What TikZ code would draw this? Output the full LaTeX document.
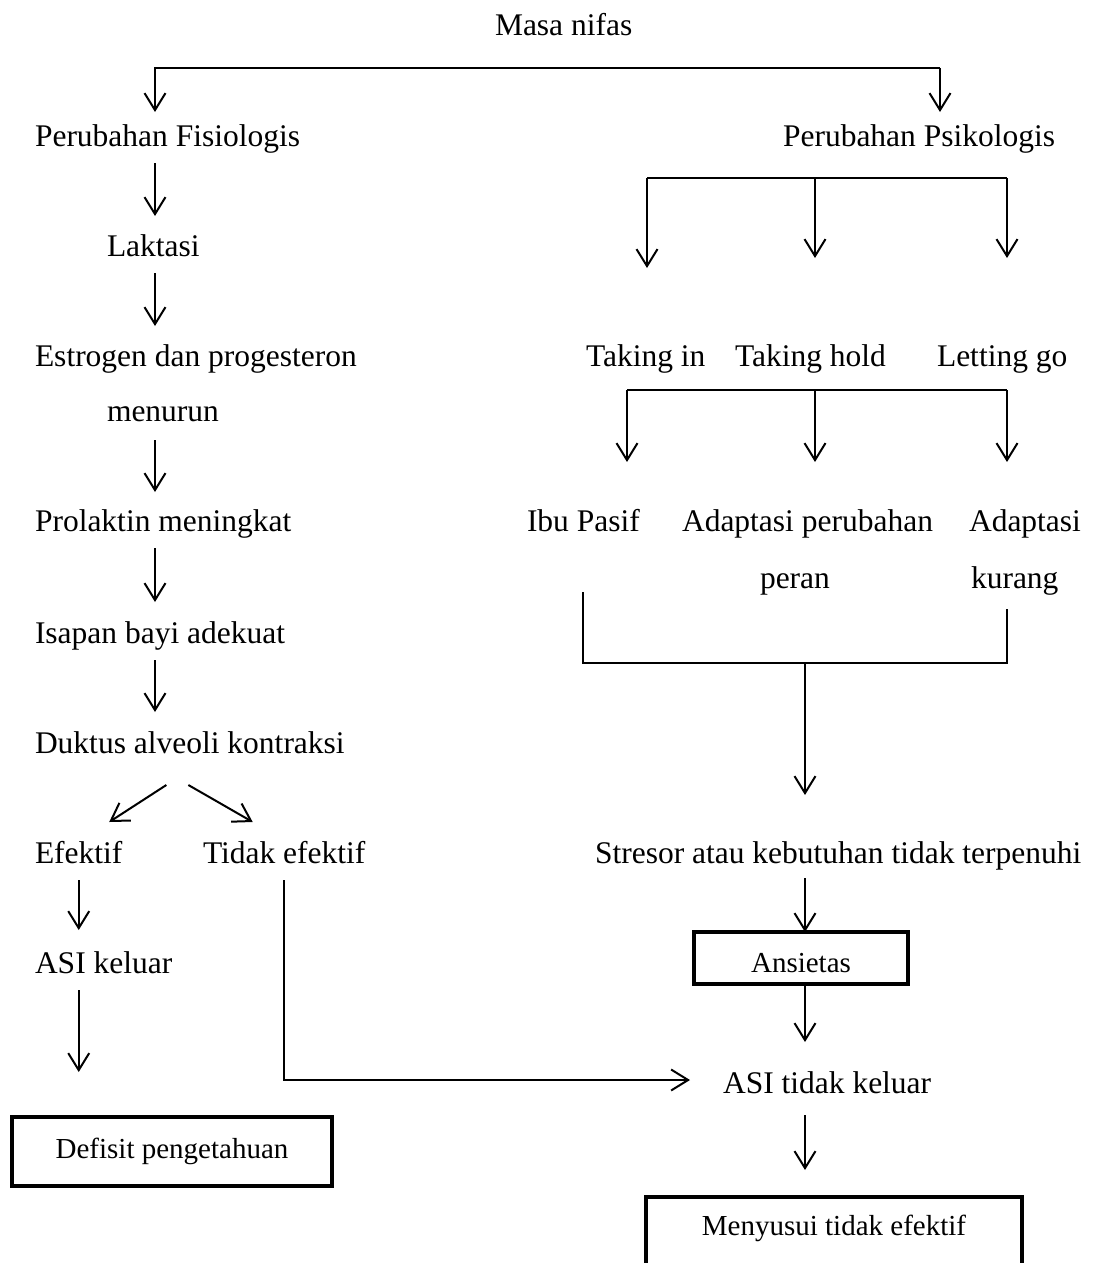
\documentclass[tikz,border=0pt]{standalone}
\usepackage{fontspec}
\setmainfont{Liberation Serif}
\usetikzlibrary{arrows.meta,calc}
\begin{document}
\begin{tikzpicture}[x=1pt,y=-1pt,
  txt/.style={inner sep=0pt, outer sep=0pt, anchor=base west, text height=22pt, text depth=7pt, font=\fontsize{31.5pt}{38pt}\selectfont},
  ln/.style={line width=2pt},
  arr/.style={ln, -{Straight Barb[length=17pt,width=21pt]}},
  box/.style={draw, line width=4pt, inner sep=0pt, outer sep=0pt, font=\fontsize{29pt}{35pt}\selectfont, text height=20pt, text depth=6pt}]
\clip (0,0) rectangle (1095,1263);
\fill[white] (0,0) rectangle (1095,1263);

% left column
\node[txt] (masa) at (495,36) {Masa nifas};
\node[txt] (fis) at (35,146) {Perubahan Fisiologis};
\node[txt] (psi) at (783,146) {Perubahan Psikologis};
\node[txt] (lak) at (107,256) {Laktasi};
\node[txt] (est) at (35,366) {Estrogen dan progesteron};
\node[txt] (men) at (107,421) {menurun};
\node[txt] (pro) at (35,531) {Prolaktin meningkat};
\node[txt] (isa) at (35,643) {Isapan bayi adekuat};
\node[txt] (duk) at (35,753) {Duktus alveoli kontraksi};
\node[txt] (efe) at (35,863) {Efektif};
\node[txt] (tid) at (203,863) {Tidak efektif};
\node[txt] (asik) at (35,973) {ASI keluar};
\node[box, minimum width=320pt, minimum height=69pt] (def) at (172,1151.5) {Defisit pengetahuan};

% right column
\node[txt] (tin) at (586,366) {Taking in};
\node[txt] (thold) at (735,366) {Taking hold};
\node[txt] (let) at (937,366) {Letting go};
\node[txt] (ibu) at (527,531) {Ibu Pasif};
\node[txt] (adp) at (682,531) {Adaptasi perubahan};
\node[txt] (per) at (760,588) {peran};
\node[txt] (ada) at (969,531) {Adaptasi};
\node[txt] (kur) at (971,588) {kurang};
\node[txt] (stre) at (595,863) {Stresor atau kebutuhan tidak terpenuhi};
\node[box, minimum width=214pt, minimum height=52pt, text height=28pt, text depth=0pt] (ans) at (801,958) {Ansietas};
\node[txt] (asitk) at (723,1093) {ASI tidak keluar};
\node[box, anchor=north, minimum width=376pt, inner ysep=18pt, text height=20pt, text depth=50pt] (mny) at (834,1197) {Menyusui tidak efektif};

% top bracket
\coordinate (cL) at (155,68);
\coordinate (cR) at (940,68);
\draw[arr, shorten >=12pt] (cR) -- (cL) -- (cL |- fis.north);
\draw[arr, shorten >=12pt] (cR) -- (cR |- psi.north);

% left chain
\draw[arr, shorten <=10pt, shorten >=18pt] (fis.south -| cL) -- (lak.north -| cL);
\draw[arr, shorten <=10pt, shorten >=18pt] (lak.south -| cL) -- (est.north -| cL);
\draw[arr, shorten <=12pt, shorten >=17pt] (men.south -| cL) -- (pro.north -| cL);
\draw[arr, shorten <=10pt, shorten >=19pt] (pro.south -| cL) -- (isa.north -| cL);
\draw[arr, shorten <=10pt, shorten >=19pt] (isa.south -| cL) -- (duk.north -| cL);
\draw[arr] ($(duk.south)+(-23.5,25)$) -- ($(efe.north)+(30.5,-19)$);
\draw[arr] ($(duk.south)+(-1.5,25)$) -- ($(tid.north)+(-31.5,-19)$);
\draw[arr, shorten <=10pt, shorten >=21pt] (efe.south) -- (efe.south |- asik.north);
\draw[arr, shorten <=10pt, shorten >=45pt] (efe.south |- asik.south) -- (efe.south |- def.north);
\draw[arr] ([yshift=-10pt]tid.south) |- ([xshift=-33pt,yshift=5.5pt]asitk.west);

% psychological brackets
\coordinate (pL) at (647,178);
\coordinate (pM) at (815,178);
\coordinate (pR) at (1007,178);
\draw[ln] (pL) -- (pR);
\draw[arr, shorten >=76pt] (pL) -- (pL |- tin.north);
\draw[arr, shorten >=86pt] (pM) -- (pM |- thold.north);
\draw[arr, shorten >=86pt] (pR) -- (pR |- let.north);

\coordinate (qL) at (627,390);
\coordinate (qM) at (815,390);
\coordinate (qR) at (1007,390);
\draw[ln] (qL) -- (qR);
\draw[arr, shorten >=47pt] (qL) -- (qL |- ibu.north);
\draw[arr, shorten >=47pt] (qM) -- (qM |- adp.north);
\draw[arr, shorten >=47pt] (qR) -- (qR |- ada.north);

\coordinate (rL) at (583,663);
\coordinate (rM) at (805,663);
\coordinate (rR) at (1007,663);
\draw[ln, shorten <=54pt, shorten >=14pt] (rL |- ibu.south) -- (rL) -- (rR) -- (rR |- kur.south);
\draw[arr, shorten >=46pt] (rM) -- (rM |- stre.north);
\draw[arr, shorten <=8pt] (stre.south -| rM) -- (ans.north -| rM);
\draw[arr, shorten >=29pt] (ans.south -| rM) -- (asitk.north -| rM);
\draw[arr, shorten <=15pt, shorten >=27pt] (asitk.south -| rM) -- (mny.north -| rM);
\end{tikzpicture}
\end{document}
